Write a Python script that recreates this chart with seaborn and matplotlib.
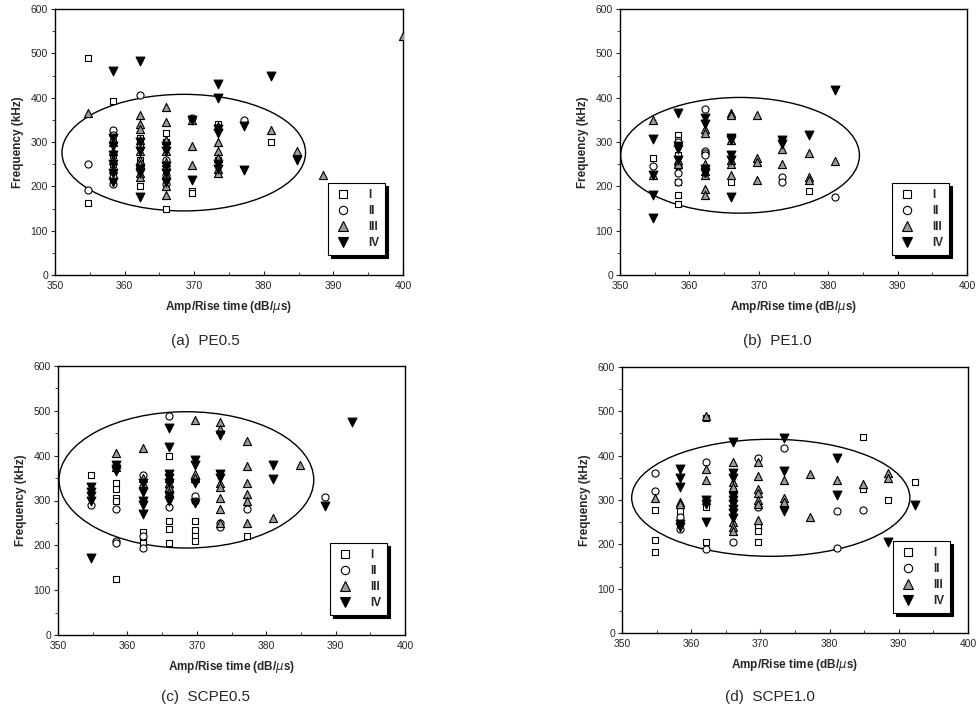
import pandas as pd
import seaborn as sns
import matplotlib.pyplot as plt
from matplotlib.patches import Ellipse
from matplotlib.lines import Line2D
from matplotlib.ticker import MultipleLocator

# (amp/rise time, frequency), one list per panel and class
pe05_I = [(354.8, 490), (354.8, 163), (358.4, 392), (358.4, 300), (358.4, 270), (358.4, 250),
          (358.4, 230), (358.4, 210), (362.2, 310), (362.2, 290), (362.2, 260), (362.2, 200),
          (366.0, 320), (366.0, 300), (366.0, 240), (366.0, 220), (366.0, 150), (369.7, 190),
          (369.7, 185), (373.4, 340), (373.4, 260), (381.0, 300)]
pe05_II = [(354.8, 250), (354.8, 192), (358.4, 328), (358.4, 315), (358.4, 220), (358.4, 205),
           (362.2, 405), (366.0, 260), (366.0, 225), (366.0, 205), (369.7, 355), (377.2, 350)]
pe05_III = [(354.8, 365), (358.4, 300), (358.4, 280), (358.4, 260), (358.4, 240), (362.2, 360),
            (362.2, 340), (362.2, 330), (362.2, 305), (362.2, 280), (362.2, 260), (362.2, 250),
            (362.2, 230), (362.2, 220), (366.0, 380), (366.0, 345), (366.0, 305), (366.0, 280),
            (366.0, 255), (366.0, 225), (366.0, 200), (366.0, 180), (369.7, 350), (369.7, 292),
            (369.7, 247), (373.4, 335), (373.4, 300), (373.4, 280), (373.4, 265), (373.4, 240),
            (373.4, 230), (381.0, 328), (384.8, 280), (388.5, 225), (400.0, 540)]
pe05_IV = [(358.4, 460), (358.4, 310), (358.4, 290), (358.4, 270), (358.4, 250), (358.4, 230),
           (358.4, 210), (362.2, 483), (362.2, 300), (362.2, 280), (362.2, 240), (362.2, 230),
           (362.2, 175), (366.0, 290), (366.0, 280), (366.0, 245), (366.0, 230), (366.0, 210),
           (369.7, 350), (369.7, 215), (373.4, 430), (373.4, 400), (373.4, 330), (373.4, 320),
           (373.4, 250), (373.4, 240), (377.2, 335), (377.2, 237), (381.0, 448), (384.8, 260)]

pe10_I = [(354.8, 265), (358.4, 315), (358.4, 305), (358.4, 270), (358.4, 210), (358.4, 180),
          (358.4, 160), (366.0, 210), (377.2, 190)]
pe10_II = [(354.8, 245), (358.4, 300), (358.4, 245), (358.4, 230), (358.4, 210), (362.2, 375),
           (362.2, 280), (362.2, 275), (362.2, 270), (373.4, 220), (373.4, 210), (381.0, 175)]
pe10_III = [(354.8, 350), (354.8, 225), (358.4, 260), (358.4, 250), (362.2, 330), (362.2, 320),
            (362.2, 250), (362.2, 235), (362.2, 225), (362.2, 195), (362.2, 180), (366.0, 365),
            (366.0, 360), (366.0, 305), (366.0, 260), (366.0, 250), (366.0, 225), (369.7, 360),
            (369.7, 265), (369.7, 255), (369.7, 215), (373.4, 285), (373.4, 250), (377.2, 275),
            (377.2, 220), (377.2, 215), (381.0, 258)]
pe10_IV = [(354.8, 307), (354.8, 225), (354.8, 180), (354.8, 128), (358.4, 365), (358.4, 290),
           (358.4, 285), (358.4, 260), (362.2, 355), (362.2, 340), (362.2, 240), (362.2, 230),
           (366.0, 310), (366.0, 305), (366.0, 270), (366.0, 260), (366.0, 175), (373.4, 305),
           (373.4, 295), (377.2, 315), (381.0, 418)]

scpe05_I = [(354.8, 357), (358.4, 340), (358.4, 325), (358.4, 305), (358.4, 300), (358.4, 125),
            (362.2, 230), (362.2, 215), (362.2, 205), (366.0, 400), (366.0, 255), (366.0, 237),
            (366.0, 205), (369.7, 255), (369.7, 235), (369.7, 220), (369.7, 210), (377.2, 220)]
scpe05_II = [(354.8, 290), (358.4, 282), (358.4, 210), (358.4, 205), (362.2, 357), (362.2, 220),
             (362.2, 195), (366.0, 488), (366.0, 345), (366.0, 330), (366.0, 285), (369.7, 345),
             (369.7, 310), (369.7, 300), (373.4, 250), (373.4, 240), (377.2, 280), (388.5, 307)]
scpe05_III = [(358.4, 405), (358.4, 375), (362.2, 418), (362.2, 350), (362.2, 340), (366.0, 350),
              (366.0, 340), (366.0, 330), (366.0, 320), (369.7, 480), (369.7, 360), (369.7, 350),
              (373.4, 475), (373.4, 460), (373.4, 340), (373.4, 330), (373.4, 305), (373.4, 280),
              (373.4, 250), (377.2, 432), (377.2, 378), (377.2, 340), (377.2, 315), (377.2, 300),
              (377.2, 250), (381.0, 262), (384.8, 380)]
scpe05_IV = [(354.8, 330), (354.8, 320), (354.8, 310), (354.8, 300), (354.8, 172), (358.4, 380),
             (358.4, 370), (358.4, 365), (362.2, 340), (362.2, 320), (362.2, 300), (362.2, 290),
             (362.2, 270), (366.0, 462), (366.0, 420), (366.0, 360), (366.0, 350), (366.0, 340),
             (366.0, 310), (366.0, 300), (369.7, 390), (369.7, 380), (369.7, 340), (369.7, 295),
             (373.4, 445), (373.4, 360), (373.4, 350), (381.0, 380), (381.0, 347), (388.5, 287),
             (392.3, 475)]

scpe10_I = [(354.8, 278), (354.8, 210), (354.8, 183), (358.4, 275), (362.2, 485), (362.2, 285),
            (362.2, 205), (366.0, 320), (369.7, 240), (369.7, 230), (369.7, 205), (384.8, 442),
            (384.8, 325), (388.5, 300), (392.3, 340)]
scpe10_II = [(354.8, 360), (354.8, 320), (358.4, 262), (358.4, 235), (362.2, 385), (362.2, 190),
             (366.0, 205), (369.7, 395), (369.7, 285), (373.4, 418), (381.0, 275), (381.0, 192),
             (384.8, 278)]
scpe10_III = [(354.8, 305), (358.4, 295), (358.4, 290), (362.2, 490), (362.2, 370), (362.2, 345),
              (362.2, 300), (366.0, 385), (366.0, 340), (366.0, 330), (366.0, 250), (366.0, 240),
              (366.0, 230), (369.7, 385), (369.7, 355), (369.7, 325), (369.7, 315), (369.7, 300),
              (369.7, 290), (369.7, 255), (373.4, 345), (373.4, 305), (373.4, 295), (377.2, 358),
              (377.2, 262), (381.0, 345), (384.8, 335), (388.5, 360), (388.5, 350)]
scpe10_IV = [(358.4, 370), (358.4, 350), (358.4, 330), (358.4, 245), (358.4, 240), (362.2, 300),
             (362.2, 290), (362.2, 250), (366.0, 430), (366.0, 360), (366.0, 350), (366.0, 310),
             (366.0, 300), (366.0, 290), (366.0, 280), (366.0, 270), (366.0, 260), (373.4, 440),
             (373.4, 365), (373.4, 275), (381.0, 395), (381.0, 312), (388.5, 205), (392.3, 288)]

classes = ['I', 'II', 'III', 'IV']
captions = ['(a)  PE0.5', '(b)  PE1.0', '(c)  SCPE0.5', '(d)  SCPE1.0']
panels = [
    [pe05_I, pe05_II, pe05_III, pe05_IV],
    [pe10_I, pe10_II, pe10_III, pe10_IV],
    [scpe05_I, scpe05_II, scpe05_III, scpe05_IV],
    [scpe10_I, scpe10_II, scpe10_III, scpe10_IV],
]
# ellipse (center x, center y, width, height) per panel
ellipses = [(368.5, 276, 35.0, 263), (367.3, 270, 34.4, 261),
            (368.5, 346, 36.7, 304), (371.5, 305, 40.2, 264)]

markers = {'I': 's', 'II': 'o', 'III': '^', 'IV': 'v'}
fills = {'I': 'white', 'II': 'white', 'III': '#9a9a9a', 'IV': 'black'}
sizes = {'I': 22, 'II': 26, 'III': 34, 'IV': 40}

sns.set_style('ticks')
plt.rcParams['font.family'] = ['Liberation Sans', 'DejaVu Sans']

fig = plt.figure(figsize=(9.78, 7.12), dpi=100)
# axes boxes in pixels: left, right, top, bottom
boxes = [(55, 403, 9, 275), (620, 967, 9, 275), (58, 405, 366, 635), (622, 968, 367, 633)]
cap_pos = [(0.21, 0.521), (0.795, 0.521), (0.21, 0.021), (0.787, 0.021)]

for i, pts in enumerate(panels):
    l, r, t, b = boxes[i]
    ax = fig.add_axes([l / 978, 1 - b / 712, (r - l) / 978, (b - t) / 712])
    rows = []
    for cls, lst in zip(classes, pts):
        for amp, freq in lst:
            rows.append({'amp': amp, 'freq': freq, 'cls': cls})
    df = pd.DataFrame(rows)
    for cls in classes:
        sub = df[df['cls'] == cls]
        sns.scatterplot(data=sub, x='amp', y='freq', marker=markers[cls], s=sizes[cls],
                        color=fills[cls], edgecolor='black', linewidth=0.8, ax=ax,
                        legend=False, zorder=3)
    cx, cy, w, h = ellipses[i]
    ax.add_patch(Ellipse((cx, cy), w, h, fill=False, edgecolor='black', lw=1.0, zorder=2))

    ax.set_xlim(350, 400)
    ax.set_ylim(0, 600)
    ax.xaxis.set_major_locator(MultipleLocator(10))
    ax.xaxis.set_minor_locator(MultipleLocator(5))
    ax.yaxis.set_major_locator(MultipleLocator(100))
    ax.yaxis.set_minor_locator(MultipleLocator(50))
    ax.tick_params(axis='x', which='both', direction='in', labelsize=7.5, length=3, pad=4)
    ax.tick_params(axis='y', which='both', direction='out', labelsize=7.5, length=3, pad=2)
    ax.tick_params(which='minor', length=2)
    for sp in ax.spines.values():
        sp.set_linewidth(1.0)
        sp.set_color('black')
    ax.set_xlabel('Amp/Rise time (dB/$\\mu$s)', fontsize=8.5, fontweight='bold', labelpad=6)
    ax.set_ylabel('Frequency (kHz)', fontsize=8.5, fontweight='bold', labelpad=5)

    handles = [Line2D([], [], marker=markers[c], linestyle='none', markersize=6 if c in ('I', 'II') else 7,
                      markerfacecolor=fills[c], markeredgecolor='black', markeredgewidth=0.8)
               for c in classes]
    leg = ax.legend(handles, classes, loc='lower right', bbox_to_anchor=(0.955, 0.065),
                    frameon=True, fancybox=False, framealpha=1, edgecolor='black',
                    shadow={'facecolor': 'black', 'edgecolor': 'black', 'alpha': 1},
                    prop={'size': 8.5, 'weight': 'bold'}, labelspacing=0.35,
                    handletextpad=1.3, borderpad=0.5, handlelength=1.6, borderaxespad=0.2)
    leg.get_frame().set_linewidth(0.8)

    fig.text(cap_pos[i][0], cap_pos[i][1], captions[i], ha='center', va='center', fontsize=11)

fig.savefig('out.png', dpi=100)
